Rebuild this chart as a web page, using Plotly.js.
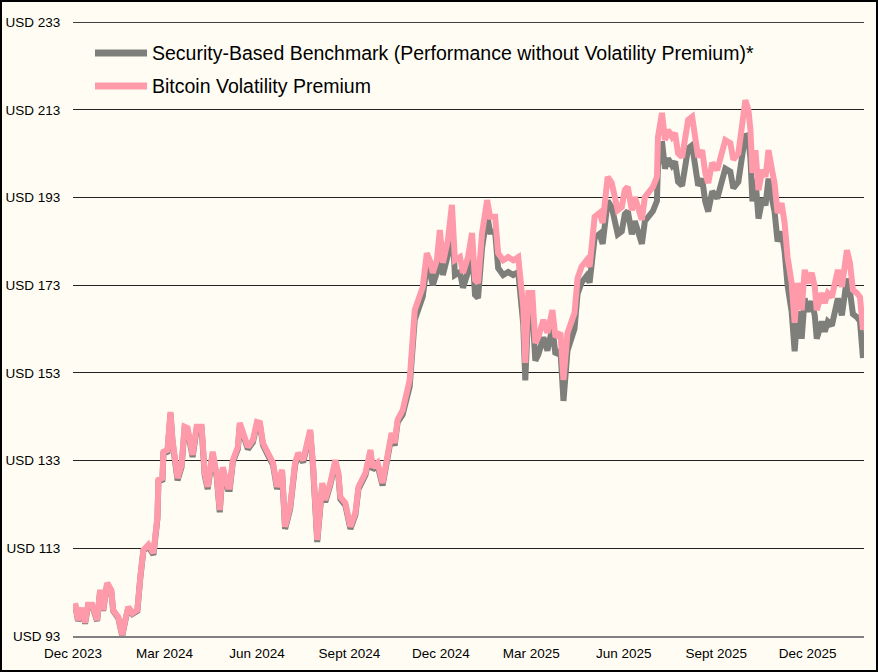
<!DOCTYPE html>
<html>
<head>
<meta charset="utf-8">
<script src="https://cdn.plot.ly/plotly-3.0.1.min.js"></script>
<style>
  html, body { margin: 0; padding: 0; background: #fffdf3; }
  #frame { width: 878px; height: 672px; border: 2px solid #000; box-sizing: border-box; background: #fffdf3; }
  #chart { width: 874px; height: 668px; }
</style>
</head>
<body>
<div id="frame"><div id="chart"></div></div>
<script>
// Day offsets from 2023-12-01 for each observation
const dayOffsets = [
  2,5,9,12,15,19,24,27,30,34,38,40,45,49,52,55,59,64,67,70,75,80,84,85,89,90,94,97,99,
  101,104,108,111,114,119,123,128,131,134,139,143,146,149,154,156,159,164,166,169,
  174,179,183,186,189,194,199,203,208,211,216,221,224,229,233,236,239,243,248,251,
  256,261,264,266,271,276,281,284,291,296,
  298,303,308,313,317,320,323,328,335,340,342,345,348,352,355,358,362,365,368,373,
  377,380,385,388,393,397,400,403,407,412,415,420,423,428,433,438,443,448,450,453,
  457,460,463,468,472,477,480,485,488,492,497,
  499,502,506,511,514,519,524,527,532,536,539,542,546,549,552,556,559,562,566,569,
  574,577,581,582,586,589,592,596,599,602,606,609,612,616,619,622,626,629,632,636,
  641,646,649,654,657,662,666,669,672,674,676,679,682,686,689,692,696,
  698,701,705,708,711,715,718,721,725,728,731,735,738,740,745,748,751,755,758,761,
  765,768,770,773,776,780,783,786
];

// Bitcoin Volatility Premium (USD, total value line)
const premiumValues = [
  100.5,96.6,99.4,96.0,100.1,100.1,96.6,103.5,98.9,105.1,103.5,98.9,97.3,93.2,96.6,99.6,98.2,98.9,106.5,112.6,
  113.8,111.9,120.1,128.6,129.0,135.0,135.4,144.1,137.7,
  135.0,129.0,132.0,140.7,140.4,134.3,140.7,140.7,130.2,127.0,
  135.0,129.7,121.7,131.5,127.0,127.0,133.1,136.1,141.6,139.3,
  136.1,137.7,141.8,141.6,137.0,134.7,132.5,127.0,130.9,117.9,
  122.4,132.5,134.7,133.1,137.7,140.0,131.5,114.9,127.9,124.0,
  127.9,133.1,130.2,124.7,123.3,117.9,121.1,127.0,130.2,135.4,
  131.5,132.5,127.9,134.7,139.3,137.0,142.3,144.5,151.4,167.3,
  168.9,170.3,172.6,180.3,178.7,175.8,178.7,185.6,178.1,183.3,
  191.3,178.7,179.4,175.8,179.4,184.9,174.2,173.5,184.9,192.4,
  188.6,188.6,180.3,178.7,179.4,178.7,179.4,168.0,155.3,171.2,
  171.2,159.8,161.2,165.1,162.1,167.3,161.2,162.1,151.4,162.1,165.1,
  166.7,174.6,177.2,178.7,177.2,188.6,189.5,187.2,197.7,196.3,
  193.1,190.1,190.8,194.7,195.4,190.1,193.1,190.8,187.9,193.1,
  194.7,195.4,197.7,206.8,212.3,206.1,208.4,206.8,207.7,203.1,
  202.2,207.7,210.7,211.4,206.1,202.2,203.8,198.6,196.3,200.9,
  199.3,203.8,206.1,205.4,201.6,203.1,210.0,215.2,213.0,208.4,
  198.6,203.8,194.7,199.3,197.7,203.8,198.6,
  196.3,189.5,191.7,187.2,179.4,173.5,164.4,173.5,167.3,176.5,
  173.5,175.8,172.6,167.3,171.2,168.9,171.2,170.3,173.5,176.5,
  172.6,176.5,181.0,178.1,171.9,171.2,170.3,162.8
];

// Security-Based Benchmark (USD)
const benchmarkValues = [
  100.3,96.4,99.2,95.8,99.9,99.9,96.4,103.3,98.7,104.9,103.3,98.7,97.1,93.0,96.4,99.4,98.0,98.7,106.3,112.4,
  113.4,111.5,119.7,128.2,128.6,134.6,135.0,143.7,137.3,
  134.5,128.5,131.5,140.2,139.9,133.8,140.2,140.2,129.7,126.5,
  134.5,129.2,121.2,131.0,126.5,126.5,132.6,135.6,141.1,138.8,
  135.6,137.2,141.3,141.1,136.5,134.2,132.0,126.5,130.4,117.4,
  121.9,132.0,134.2,132.6,137.2,139.5,131.0,114.4,127.4,123.5,
  127.4,132.6,129.7,124.2,122.8,117.4,120.6,126.5,129.7,134.9,
  130.9,131.9,127.3,134.1,138.7,136.4,141.7,143.5,149.9,165.1,
  166.7,168.1,170.4,177.5,175.9,173.0,175.9,182.8,175.3,179.9,
  187.9,175.3,176.0,172.4,176.0,181.5,170.8,170.1,181.5,189.0,
  185.2,185.2,176.9,175.3,176.0,175.3,176.0,164.0,151.3,167.2,
  167.2,155.8,157.2,161.1,158.1,163.3,157.2,158.1,146.6,158.1,161.1,
  163.1,171.0,173.6,175.1,173.6,183.8,184.7,182.4,192.2,190.8,
  187.6,184.6,185.3,189.2,189.9,184.6,187.6,185.3,182.4,187.6,
  189.2,189.9,192.2,200.3,205.8,199.6,201.9,200.3,201.2,196.6,
  195.7,201.2,204.2,204.9,199.6,195.7,197.3,192.1,189.8,194.4,
  192.8,197.3,199.6,198.9,195.1,196.6,203.5,207.5,206.5,201.9,
  192.1,197.3,188.2,192.8,191.2,197.3,192.1,
  189.8,183.0,185.2,180.7,172.9,167.0,157.9,167.0,160.8,170.0,
  167.0,169.3,166.1,160.8,164.7,162.4,164.7,163.8,167.0,170.0,
  166.1,170.0,174.5,171.6,166.4,165.7,164.8,156.4
];

const seriesNames = [
  "Security-Based Benchmark (Performance without Volatility Premium)*",
  "Bitcoin Volatility Premium"
];
const xTickDates = ["2023-12-01","2024-03-01","2024-06-01","2024-09-01","2024-12-01","2025-03-01","2025-06-01","2025-09-01","2025-12-01"];
const xTickLabels = ["Dec 2023","Mar 2024","Jun 2024","Sept 2024","Dec 2024","Mar 2025","Jun 2025","Sept 2025","Dec 2025"];
const yTickValues = [93,113,133,153,173,193,213,233];
const yTickLabels = ["USD 93","USD 113","USD 133","USD 153","USD 173","USD 193","USD 213","USD 233"];

const GREY = "#7e7f7b";
const PINK = "#ff9aab";
const BG = "#fffdf3";
const FONT = "Liberation Sans, Arial, Helvetica, sans-serif";

function toDate(off) {
  const d = new Date(Date.UTC(2023, 11, 1));
  d.setUTCDate(d.getUTCDate() + off);
  return d.toISOString().slice(0, 10);
}
const dates = dayOffsets.map(toDate);

const traces = [
  { x: dates, y: benchmarkValues, name: seriesNames[0], type: "scatter", mode: "lines",
    line: { color: GREY, width: 6 }, showlegend: false, hoverinfo: "x+y" },
  { x: dates, y: premiumValues, name: seriesNames[1], type: "scatter", mode: "lines",
    line: { color: PINK, width: 6 }, showlegend: false, hoverinfo: "x+y" }
];

// legend geometry in paper coordinates
const legY = [0.9495, 0.8958];
const topValue = yTickValues[yTickValues.length - 1];
const shapes = [
  // top gridline (Plotly drops the grid line lying on the plot edge)
  { type: "line", xref: "paper", yref: "y", x0: 0, x1: 1, y0: topValue, y1: topValue,
    line: { color: "#000", width: 1.3 }, layer: "below" },
  { type: "line", xref: "paper", yref: "paper", x0: 0.0278, x1: 0.0936, y0: legY[0], y1: legY[0],
    line: { color: GREY, width: 7 } },
  { type: "line", xref: "paper", yref: "paper", x0: 0.0278, x1: 0.0936, y0: legY[1], y1: legY[1],
    line: { color: PINK, width: 7 } }
];
const annotations = seriesNames.map((n, i) => ({
  text: n, xref: "paper", yref: "paper", x: 0.0975, y: legY[i], xanchor: "left", yanchor: "middle",
  showarrow: false, font: { size: 19.5, color: "#000", family: FONT }
}));

const layout = {
  width: 874, height: 668,
  margin: { l: 71, r: 12, t: 20, b: 34 },
  paper_bgcolor: BG, plot_bgcolor: BG,
  font: { family: FONT, size: 13, color: "#000" },
  xaxis: {
    type: "date", range: ["2023-12-01", "2026-01-26"],
    tickvals: xTickDates, ticktext: xTickLabels,
    showgrid: false, zeroline: false,
    showline: true, linecolor: "#808080", linewidth: 2,
    ticks: "outside", ticklen: 4, tickcolor: "rgba(0,0,0,0)",
    tickfont: { size: 13.5 }
  },
  yaxis: {
    range: [92.98, 233.03], tickvals: yTickValues, ticktext: yTickLabels,
    showgrid: true, gridcolor: "#222", gridwidth: 1, zeroline: false, showline: false,
    ticks: "outside", ticklen: 9, tickcolor: "rgba(0,0,0,0)",
    tickfont: { size: 13.5 }
  },
  shapes: shapes,
  annotations: annotations
};

Plotly.newPlot("chart", traces, layout, { displayModeBar: false, staticPlot: true });
</script>
</body>
</html>
